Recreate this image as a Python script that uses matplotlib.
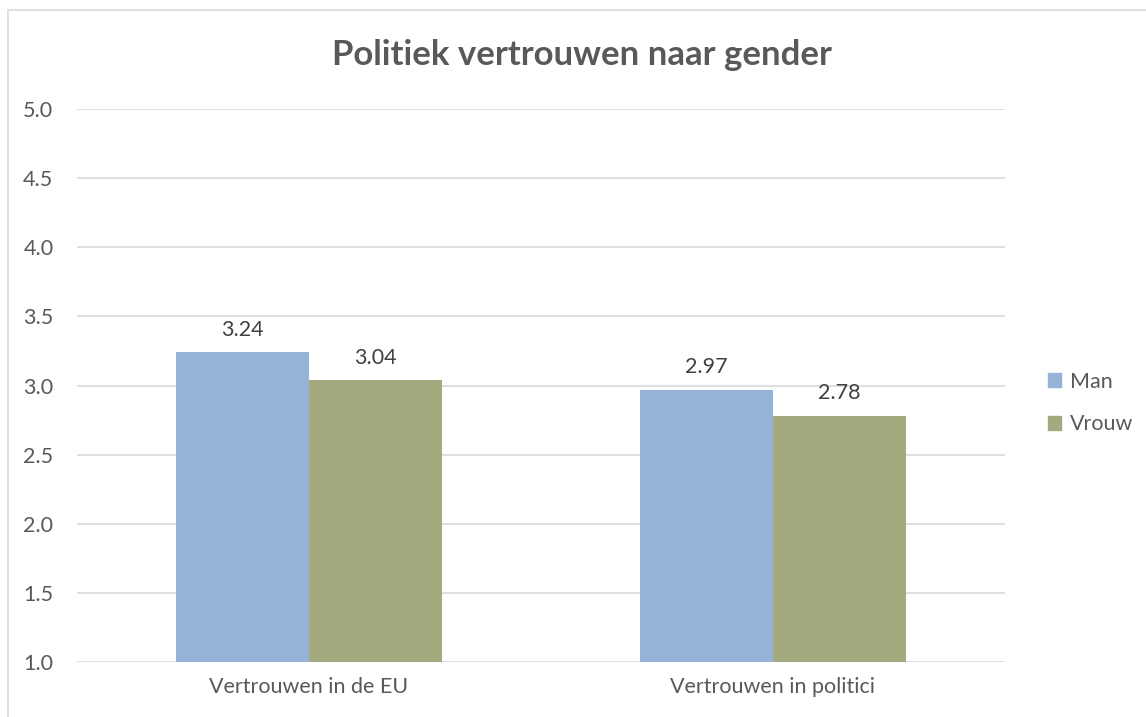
import numpy as np
import matplotlib.pyplot as plt
from matplotlib.patches import Rectangle, Patch

categories = ["Vertrouwen in de EU", "Vertrouwen in politici"]
man = [3.24, 2.97]
vrouw = [3.04, 2.78]
yticks = [1.0, 1.5, 2.0, 2.5, 3.0, 3.5, 4.0, 4.5, 5.0]

plt.rcParams['font.family'] = ['Lato', 'DejaVu Sans']
grey = "#595959"
blue = "#95B3D7"
green = "#A4A97F"
fs = 15.5

fig = plt.figure(figsize=(11.46, 7.17), dpi=100)
ax = fig.add_axes([77/1146, 1 - 662/717, 928/1146, (662 - 109)/717])

# outer chart border
fig.patches.append(Rectangle((8/1146, -0.1), 1.2, 1 - 10/717 + 0.1,
                             transform=fig.transFigure, fill=False,
                             edgecolor="#D9D9D9", linewidth=1.2))

x = np.arange(len(categories))
w = 0.287
ax.bar(x - w/2, np.array(man) - 1.0, w, bottom=1.0, color=blue, label="Man", zorder=3)
ax.bar(x + w/2, np.array(vrouw) - 1.0, w, bottom=1.0, color=green, label="Vrouw", zorder=3)

for xi, v in zip(x - w/2, man):
    ax.text(xi, v + 0.09, f"{v:.2f}", ha="center", va="bottom", fontsize=fs, color="#404040")
for xi, v in zip(x + w/2, vrouw):
    ax.text(xi, v + 0.09, f"{v:.2f}", ha="center", va="bottom", fontsize=fs, color="#404040")

ax.set_xlim(-0.5, 1.5)
ax.set_ylim(1.0, 5.0)
ax.set_yticks(yticks)
ax.set_yticklabels([f"{t:.1f}" for t in yticks])
ax.set_xticks(x)
ax.set_xticklabels(categories)
ax.tick_params(axis="both", length=0, labelsize=fs, colors=grey)
ax.tick_params(axis="y", pad=17)
ax.tick_params(axis="x", pad=11)
ax.grid(axis="y", color="#D9D9D9", linewidth=1.2, zorder=0)
for s in ax.spines.values():
    s.set_visible(False)

fig.text(582/1146, 1 - 55/717, "Politiek vertrouwen naar gender", ha="center", va="center",
         fontsize=25, fontweight="bold", color=grey)

handles = [Patch(color=blue), Patch(color=green)]
fig.legend(handles, ["Man", "Vrouw"], loc="center left", bbox_to_anchor=(1033/1146, 1 - 403/717),
           frameon=False, fontsize=fs, labelcolor=grey, handlelength=0.6, handleheight=0.6,
           handletextpad=0.4, labelspacing=1.05, borderpad=0.2)

fig.savefig("out.png", dpi=100)
